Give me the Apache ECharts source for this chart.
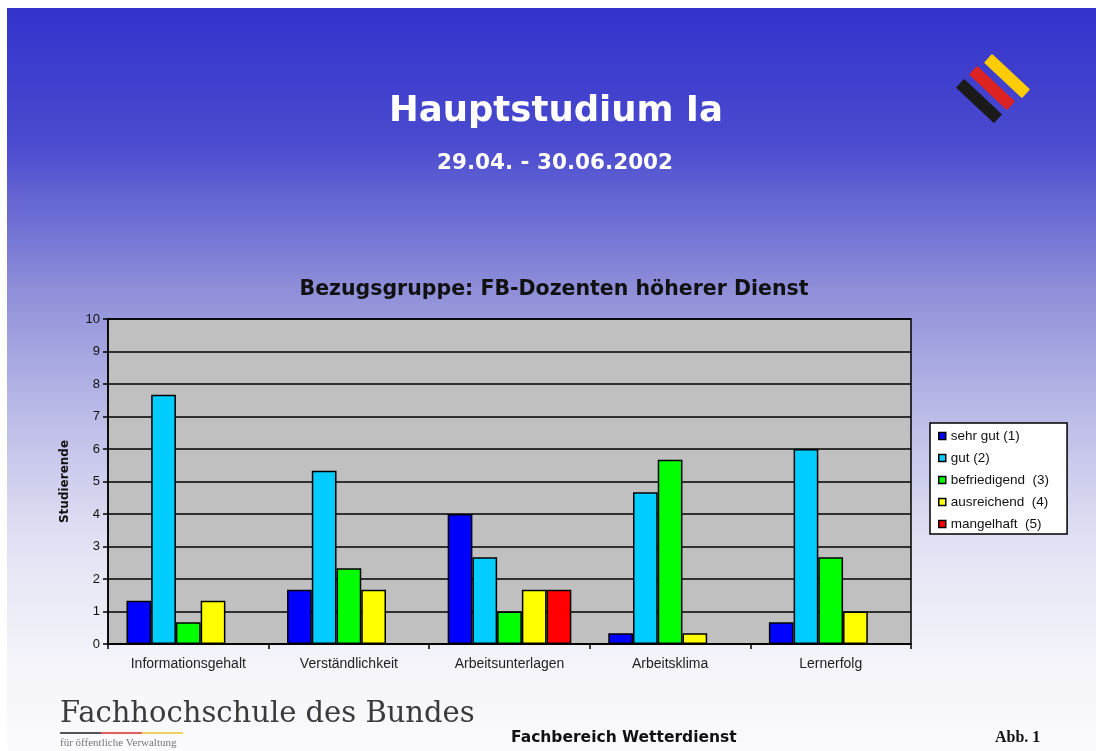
<!DOCTYPE html>
<html>
<head>
<meta charset="utf-8">
<script src="https://cdn.jsdelivr.net/npm/echarts@6/dist/echarts.min.js"></script>
<style>
  html, body { margin: 0; padding: 0; background: #ffffff; }
  #chart { width: 1096px; height: 751px; }
</style>
</head>
<body>
<div id="chart"></div>
<script>
// Rating categories (x axis)
const categories = ['Informationsgehalt', 'Verständlichkeit', 'Arbeitsunterlagen', 'Arbeitsklima', 'Lernerfolg'];

// Average number of students per grade
const sehrGut      = [1.33, 1.67, 4.00, 0.33, 0.67];
const gut          = [7.67, 5.33, 2.67, 4.67, 6.00];
const befriedigend = [0.67, 2.33, 1.00, 5.67, 2.67];
const ausreichend  = [1.33, 1.67, 1.67, 0.33, 1.00];
const mangelhaft   = [null, null, 1.67, null, null];

const seriesNames  = ['sehr gut (1)', 'gut (2)', 'befriedigend  (3)', 'ausreichend  (4)', 'mangelhaft  (5)'];
const seriesValues = [sehrGut, gut, befriedigend, ausreichend, mangelhaft];
const seriesColors = ['#0000ff', '#00ccff', '#00ff00', '#ffff00', '#ff0000'];

const yMin = 0, yMax = 10, yStep = 1;

const chart = echarts.init(document.getElementById('chart'));

const sansFont = 'Liberation Sans, Arial, Helvetica, sans-serif';
const wideSans = 'DejaVu Sans, Verdana, sans-serif';
const serifFont = 'Liberation Serif, Times New Roman, serif';
const wideSerif = 'DejaVu Serif, Georgia, serif';

// Diagonal tricolour emblem in the top right corner
function stripe(cx, cy, color) {
  return {
    type: 'rect',
    x: cx, y: cy,
    rotation: -0.75,
    shape: { x: -26, y: -6, width: 52, height: 12, r: 1 },
    style: { fill: color },
    z: 10
  };
}

chart.setOption({
  backgroundColor: '#ffffff',
  animation: false,
  graphic: [
    {
      type: 'rect',
      x: 7, y: 8,
      shape: { width: 1089, height: 743 },
      style: {
        fill: new echarts.graphic.LinearGradient(0, 0, 0, 1, [
          { offset: 0, color: '#3333cc' },
          { offset: 0.18, color: '#4a4acf' },
          { offset: 0.38, color: '#8f8fd9' },
          { offset: 0.55, color: '#bcbce8' },
          { offset: 0.72, color: '#e2e2f4' },
          { offset: 0.88, color: '#f4f4fa' },
          { offset: 1, color: '#fbfbfd' }
        ])
      },
      z: -10
    },
    stripe(1007, 76, '#ffcc00'),
    stripe(992, 88, '#dd2222'),
    stripe(979, 101, '#1a1a1a'),
    {
      type: 'text',
      x: 60, y: 700,
      style: { text: 'Fachhochschule des Bundes', font: '29px ' + wideSerif, fill: '#3a3a3a' },
      z: 10
    },
    { type: 'rect', x: 60, y: 732, shape: { width: 41, height: 2 }, style: { fill: '#555555' }, z: 10 },
    { type: 'rect', x: 101, y: 732, shape: { width: 41, height: 2 }, style: { fill: '#e06060' }, z: 10 },
    { type: 'rect', x: 142, y: 732, shape: { width: 41, height: 2 }, style: { fill: '#f0d060' }, z: 10 },
    {
      type: 'text',
      x: 60, y: 738,
      style: { text: 'für öffentliche Verwaltung', font: '11px ' + serifFont, fill: '#777777' },
      z: 10
    },
    {
      type: 'text',
      x: 511, y: 730,
      style: { text: 'Fachbereich Wetterdienst', font: 'bold 15.5px ' + wideSans, fill: '#111111' },
      z: 10
    },
    {
      type: 'text',
      x: 995, y: 730,
      style: { text: 'Abb. 1', font: 'bold 16px ' + serifFont, fill: '#111111' },
      z: 10
    }
  ],
  title: [
    {
      text: 'Hauptstudium Ia',
      left: 551, top: 89, textAlign: 'center',
      textStyle: { color: '#ffffff', fontSize: 35.5, fontWeight: 'bold', fontFamily: wideSans }
    },
    {
      text: '29.04. - 30.06.2002',
      left: 550, top: 147, textAlign: 'center',
      textStyle: { color: '#ffffff', fontSize: 21.5, fontWeight: 'bold', fontFamily: wideSans }
    },
    {
      text: 'Bezugsgruppe: FB-Dozenten höherer Dienst',
      left: 549, top: 274, textAlign: 'center',
      textStyle: { color: '#111111', fontSize: 20.5, fontWeight: 'bold', fontFamily: wideSans }
    }
  ],
  legend: {
    orient: 'vertical',
    left: 930, top: 423,
    padding: [6, 18, 3, 8],
    backgroundColor: '#ffffff',
    borderColor: '#000000',
    borderWidth: 1.5,
    itemWidth: 7, itemHeight: 7,
    itemGap: 8,
    icon: 'rect',
    itemStyle: { borderColor: '#000000', borderWidth: 1.5 },
    textStyle: { color: '#111111', fontSize: 13.5, fontFamily: sansFont },
    data: seriesNames
  },
  grid: {
    left: 108, right: 185, top: 319, bottom: 107,
    show: true,
    backgroundColor: '#c0c0c0',
    borderColor: '#000000',
    borderWidth: 1.5
  },
  xAxis: {
    type: 'category',
    data: categories,
    axisLine: { lineStyle: { color: '#000000', width: 1.5 } },
    axisTick: { show: true, length: 5, lineStyle: { color: '#000000', width: 1.5 } },
    axisLabel: { color: '#222222', fontSize: 14, fontFamily: sansFont, margin: 13 }
  },
  yAxis: {
    type: 'value',
    min: yMin, max: yMax, interval: yStep,
    name: 'Studierende',
    nameLocation: 'middle',
    nameGap: 37,
    nameTextStyle: { color: '#111111', fontSize: 12, fontWeight: 'bold', fontFamily: wideSans },
    axisLine: { show: true, lineStyle: { color: '#000000', width: 1.5 } },
    axisTick: { show: true, length: 5, lineStyle: { color: '#000000', width: 1.5 } },
    axisLabel: { color: '#111111', fontSize: 13, fontFamily: sansFont, margin: 8 },
    splitLine: { show: true, lineStyle: { color: '#000000', width: 1.5 } }
  },
  series: seriesNames.map((name, i) => ({
    name: name,
    type: 'bar',
    data: seriesValues[i],
    barGap: '0%',
    barCategoryGap: '23%',
    itemStyle: { color: seriesColors[i], borderColor: '#000000', borderWidth: 1.5 }
  }))
});
</script>
</body>
</html>
